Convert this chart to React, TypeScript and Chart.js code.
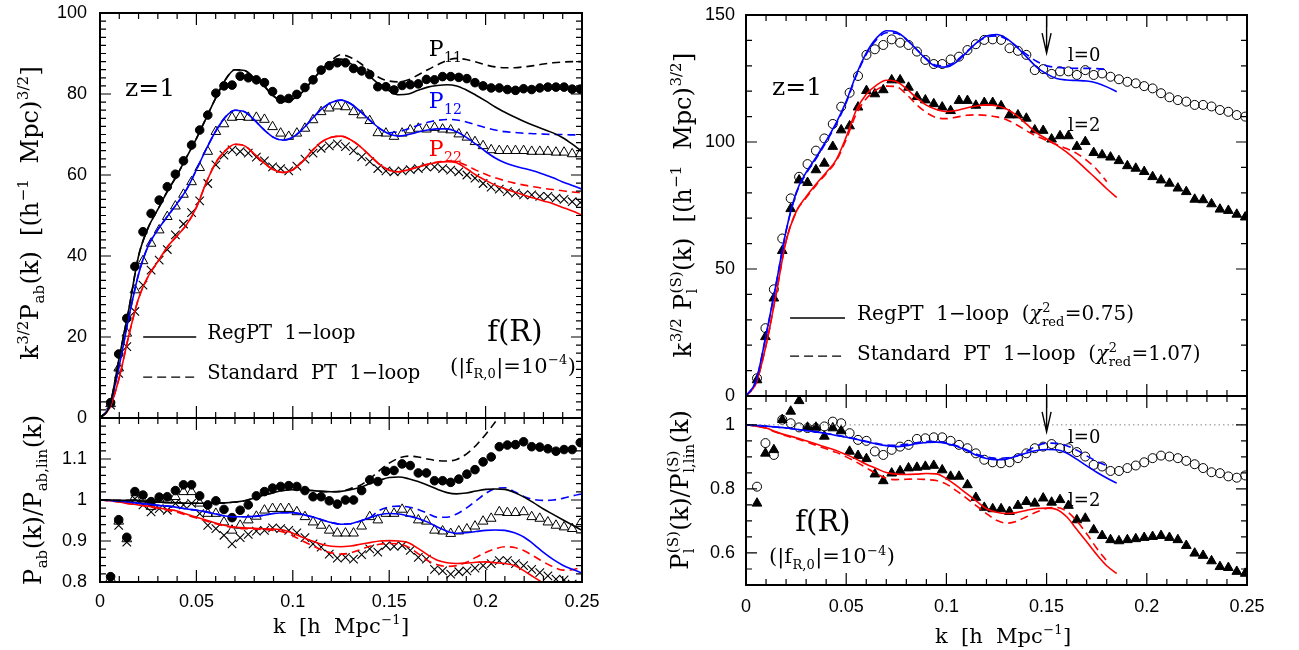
import { useEffect, useRef } from "react";
import Chart from "chart.js/auto";

const W = 1299;
const H = 650;
const SERIF = '"DejaVu Serif", "Liberation Serif", serif';
const SANS = '"Liberation Sans", Arial, sans-serif';
const BLUE = "#0000ff";
const RED = "#ff0000";
const BLACK = "#000000";

// k of the simulation points (both figures)
const K_SIM = [
  0.0055, 0.0097, 0.0139, 0.0181, 0.0223, 0.0265, 0.0307, 0.0349, 0.0391, 0.0433,
  0.0475, 0.0517, 0.0559, 0.0601, 0.0643, 0.0685, 0.0727, 0.0769, 0.0811, 0.0853,
  0.0895, 0.0937, 0.0979, 0.1021, 0.1063, 0.1105, 0.1147, 0.1189, 0.1231, 0.1273,
  0.1315, 0.1357, 0.1399, 0.1441, 0.1483, 0.1525, 0.1567, 0.1609, 0.1651, 0.1693,
  0.1735, 0.1777, 0.1819, 0.1861, 0.1903, 0.1945, 0.1987, 0.2029, 0.2071, 0.2113,
  0.2155, 0.2197, 0.2239, 0.2281, 0.2323, 0.2365, 0.2407, 0.2449, 0.2491,
];
// k of the theory curves
const K_CURVE = [
  0, 0.005, 0.01, 0.015, 0.02, 0.025, 0.03, 0.035, 0.04, 0.045,
  0.05, 0.055, 0.06, 0.065, 0.07, 0.075, 0.08, 0.085, 0.09, 0.095,
  0.1, 0.105, 0.11, 0.115, 0.12, 0.125, 0.13, 0.135, 0.14, 0.145,
  0.15, 0.155, 0.16, 0.165, 0.17, 0.175, 0.18, 0.185, 0.19, 0.195,
  0.2, 0.205, 0.21, 0.215, 0.22, 0.225, 0.23, 0.235, 0.24, 0.245, 0.25,
];

const X_TICKS = [0, 0.05, 0.1, 0.15, 0.2, 0.25];
const LT_Y_TICKS = [0, 20, 40, 60, 80, 100];
const LB_Y_TICKS = [0.8, 0.9, 1, 1.1];
const RT_Y_TICKS = [0, 50, 100, 150];
const RB_Y_TICKS = [0.6, 0.8, 1];

// ---- left top: k^{3/2} P_ab(k)
const LT_P11_SIM = [
  3.8, 15.8, 24.6, 37.4, 46, 50.5, 53.8, 57.1, 60.2, 63.5,
  67.4, 71.1, 74.8, 80.2, 82, 82.2, 84.4, 84, 83.5, 82.8,
  80.6, 78.7, 78.9, 79.9, 81.6, 83.5, 85.9, 87, 87.7, 87.7,
  86.3, 85.7, 84.8, 81.8, 81.8, 81, 82.1, 82.3, 82.5, 83.6,
  83.5, 84.3, 84.3, 84.1, 83.8, 82.8, 82, 81.5, 81.5, 81.1,
  80.9, 81.3, 81.1, 81.5, 81.7, 81.7, 81.7, 81.2, 81.2,
];
const LT_P12_SIM = [
  3.5, 12.3, 20.9, 31.6, 38.8, 43.1, 46.4, 49.7, 52.3, 55.2,
  58.3, 61.8, 65.8, 70.7, 72.6, 74.2, 74.4, 74.2, 74.2, 73.7,
  71.9, 70.3, 69.5, 70.3, 71.5, 73.6, 75.6, 76.5, 77, 76.8,
  75.6, 74.8, 73.4, 70.4, 70.3, 69.5, 70.3, 71.1, 71.5, 71.3,
  71.7, 71.3, 71.1, 70.1, 69.3, 68.2, 67.2, 66.2, 66, 66,
  66, 66, 65.8, 65.8, 65.8, 65.6, 65.6, 65.2, 65.2,
];
const LT_P22_SIM = [
  3.2, 11, 17.6, 26.3, 32.8, 36.5, 39, 41.6, 45.2, 47.9,
  50.7, 53.6, 57.9, 62.5, 64.9, 66.2, 65.8, 65.4, 64.4, 63.5,
  62, 61.6, 61, 62.2, 63.9, 65.4, 66.6, 67.2, 67.7, 67,
  66, 64.5, 63.3, 61.6, 61, 60.8, 61, 61.3, 61.6, 62,
  62, 61.6, 61.2, 60.8, 60, 59.2, 57.9, 57, 56.5, 55.9,
  55.5, 55.1, 55.1, 54.7, 54.7, 54.3, 54, 53.4, 53.2,
];
const LT_P11_REG = [
  0, 3, 15, 27, 40, 47, 51.5, 56, 60, 64.5, 69, 74, 79, 83.5, 86, 85.8, 84, 82, 79.5, 78.1,
  78.7, 80.5, 83.3, 86, 87.8, 88.6, 87.5, 86, 84.3, 82.3, 80.8, 79.8, 80, 80.9, 81.7, 82.1,
  82.3, 82, 81, 79.7, 78.3, 76.8, 75.5, 74.3, 73.2, 72.2, 71.3, 70.4, 69.2, 67.6, 65.8,
];
const LT_P11_SPT = [
  0, 3, 15, 27, 40, 47, 51.5, 56, 60, 64.5, 69, 74, 79, 83.5, 86, 85.8, 84, 82, 79.5, 78.1,
  78.7, 80.5, 83.3, 86, 88.3, 89.7, 89, 87.6, 85.7, 84, 83.2, 83, 83.5, 84.7, 86, 87.2,
  88.3, 88.8, 88.5, 87.9, 87.2, 86.7, 86.5, 86.5, 86.7, 87, 87.4, 87.7, 87.9, 88, 88,
];
const LT_P12_REG = [
  0, 3, 13, 25, 35.5, 42.5, 46.5, 49.8, 53, 56.5, 61.3, 66.3, 70.8, 74.3, 76, 75.6, 73.6,
  71.2, 69.3, 68.6, 69.3, 71.3, 73.9, 76.3, 77.9, 78.5, 77.6, 75.7, 73.5, 71.5, 70.1, 69.6,
  70, 70.6, 71.1, 71.4, 71.4, 70.7, 69.3, 67.6, 65.8, 64.2, 63, 62.2, 61.6, 61, 60.2, 59.3,
  58.3, 57.4, 56.5,
];
const LT_P12_SPT = [
  0, 3, 13, 25, 35.5, 42.5, 46.5, 49.8, 53, 56.5, 61.3, 66.3, 70.8, 74.3, 76, 75.6, 73.6,
  71.2, 69.3, 68.6, 69.3, 71.3, 73.9, 76.3, 77.9, 78.5, 77.6, 75.7, 73.5, 71.5, 70.4, 70.7,
  71.4, 72.3, 73, 73.5, 73.7, 73.6, 73.1, 72.4, 71.7, 71.1, 70.7, 70.5, 70.3, 70.2, 70.1,
  70, 70, 69.9, 69.9,
];
const LT_P22_REG = [
  0, 2.5, 10, 20.5, 29.5, 35, 38.6, 42.3, 45, 47.8, 52, 58, 63, 66, 67.6, 67.2, 65.2, 63,
  61.3, 60.6, 61.3, 63.3, 66, 68.2, 69.3, 69.6, 68.7, 67, 64.8, 62.6, 61.2, 60.8, 61.3, 62,
  62.6, 63.1, 63.3, 63, 61.6, 60, 58.7, 57.5, 56.6, 55.8, 55, 54.3, 53.6, 52.9, 52, 51.1, 50.1,
];
const LT_P22_SPT = [
  0, 2.5, 10, 20.5, 29.5, 35, 38.6, 42.3, 45, 47.8, 52, 58, 63, 66, 67.6, 67.2, 65.2, 63,
  61.3, 60.6, 61.3, 63.3, 66, 68.2, 69.3, 69.6, 68.7, 67, 64.8, 62.6, 61.2, 60.8, 61.3, 62,
  62.7, 63.2, 63.5, 63.3, 62.4, 61.2, 60.2, 59.3, 58.6, 58, 57.5, 57.1, 56.7, 56.4, 56.1, 55.8, 55.6,
];

// ---- left bottom: P_ab / P_ab,lin
const LB_P11_SIM = [
  0.813, 0.952, 0.909, 1.0205, 1.012, 0.996, 1.007, 1.008, 1.023, 1.037,
  1.037, 1.01, 0.988, 0.998, 0.977, 0.957, 0.975, 0.988, 1.01, 1.0205,
  1.029, 1.033, 1.035, 1.033, 1.023, 1.008, 1.008, 0.998, 0.99, 1.0,
  1.0, 1.023, 1.049, 1.045, 1.07, 1.072, 1.088, 1.084, 1.066, 1.066,
  1.047, 1.047, 1.043, 1.051, 1.063, 1.074, 1.093, 1.105, 1.13, 1.134,
  1.135, 1.142, 1.13, 1.129, 1.125, 1.119, 1.123, 1.123, 1.14,
];
const LB_P12_SIM = [
  0.808, 0.948, 0.905, 1.007, 1.0, 0.984, 1.002, 1.0, 1.008, 1.02,
  1.02, 0.992, 0.967, 0.967, 0.946, 0.926, 0.938, 0.951, 0.96, 0.975,
  0.979, 0.979, 0.979, 0.971, 0.959, 0.946, 0.938, 0.926, 0.919, 0.919,
  0.919, 0.936, 0.959, 0.951, 0.967, 0.967, 0.977, 0.967, 0.951, 0.948,
  0.926, 0.924, 0.918, 0.924, 0.929, 0.936, 0.948, 0.955, 0.971, 0.969,
  0.969, 0.971, 0.959, 0.955, 0.946, 0.938, 0.934, 0.93, 0.942,
];
const LB_P22_SIM = [
  0.806, 0.938, 0.897, 1.003, 0.988, 0.971, 0.979, 0.975, 0.992, 0.988,
  0.992, 0.967, 0.938, 0.93, 0.914, 0.893, 0.908, 0.916, 0.924, 0.926,
  0.932, 0.93, 0.926, 0.92, 0.908, 0.893, 0.885, 0.868, 0.858, 0.86,
  0.856, 0.867, 0.881, 0.873, 0.889, 0.887, 0.889, 0.877, 0.86, 0.856,
  0.831, 0.827, 0.819, 0.825, 0.827, 0.834, 0.84, 0.845, 0.852, 0.852,
  0.845, 0.84, 0.831, 0.823, 0.815, 0.807, 0.805, 0.795, 0.79,
];
const LB_P11_REG = [
  1, 1, 0.999, 0.999, 0.998, 0.997, 0.995, 0.994, 0.993, 0.992, 0.992, 0.992, 0.992, 0.993,
  0.995, 0.998, 1.005, 1.012, 1.018, 1.023, 1.025, 1.025, 1.023, 1.021, 1.02, 1.021, 1.025,
  1.031, 1.04, 1.048, 1.055, 1.056, 1.052, 1.045, 1.036, 1.026, 1.018, 1.015, 1.017, 1.022,
  1.026, 1.027, 1.026, 1.018, 1.007, 0.993, 0.978, 0.965, 0.952, 0.939, 0.926,
];
const LB_P11_SPT = [
  1, 1, 0.999, 0.999, 0.998, 0.997, 0.995, 0.994, 0.993, 0.992, 0.992, 0.992, 0.992, 0.993,
  0.995, 0.998, 1.005, 1.012, 1.018, 1.023, 1.025, 1.025, 1.023, 1.021, 1.02, 1.021, 1.028,
  1.036, 1.052, 1.072, 1.09, 1.102, 1.107, 1.105, 1.1, 1.096, 1.095, 1.099, 1.112, 1.133,
  1.16, 1.19, 1.222, 1.255, 1.29,
];
const LB_P12_REG = [
  1, 0.999, 0.997, 0.995, 0.992, 0.99, 0.987, 0.985, 0.982, 0.978, 0.975, 0.971, 0.966,
  0.961, 0.959, 0.959, 0.96, 0.963, 0.967, 0.969, 0.969, 0.965, 0.959, 0.952, 0.945, 0.941,
  0.942, 0.949, 0.957, 0.964, 0.967, 0.966, 0.961, 0.955, 0.946, 0.934, 0.924, 0.919, 0.92,
  0.923, 0.926, 0.927, 0.926, 0.92, 0.909, 0.892, 0.872, 0.855, 0.841, 0.831, 0.822,
];
const LB_P12_SPT = [
  1, 0.999, 0.997, 0.995, 0.992, 0.99, 0.987, 0.985, 0.982, 0.978, 0.975, 0.971, 0.966,
  0.961, 0.959, 0.959, 0.96, 0.963, 0.967, 0.969, 0.969, 0.965, 0.959, 0.952, 0.945, 0.941,
  0.942, 0.949, 0.957, 0.975, 0.983, 0.985, 0.983, 0.977, 0.967, 0.958, 0.958, 0.966, 0.98,
  0.998, 1.016, 1.028, 1.03, 1.02, 1.008, 1.001, 0.999, 1.0, 1.004, 1.01, 1.015,
];
const LB_P22_REG = [
  1, 0.998, 0.995, 0.991, 0.988, 0.985, 0.981, 0.977, 0.973, 0.965, 0.958, 0.951, 0.944,
  0.938, 0.934, 0.932, 0.931, 0.93, 0.929, 0.927, 0.919, 0.909, 0.9, 0.892, 0.887, 0.886,
  0.888, 0.892, 0.896, 0.9, 0.901, 0.9, 0.896, 0.882, 0.866, 0.853, 0.847, 0.845, 0.846,
  0.848, 0.849, 0.847, 0.845, 0.84, 0.827, 0.812, 0.797, 0.782, 0.768, 0.755, 0.742,
];
const LB_P22_SPT = [
  1, 0.998, 0.995, 0.991, 0.988, 0.984, 0.98, 0.975, 0.97, 0.963, 0.956, 0.949, 0.942,
  0.936, 0.932, 0.93, 0.929, 0.928, 0.926, 0.922, 0.913, 0.9, 0.889, 0.878, 0.871, 0.868,
  0.871, 0.879, 0.887, 0.892, 0.894, 0.893, 0.885, 0.869, 0.852, 0.842, 0.838, 0.84, 0.848,
  0.86, 0.872, 0.881, 0.886, 0.884, 0.876, 0.863, 0.849, 0.837, 0.829, 0.83, 0.836,
];

// ---- right top: k^{3/2} P_l^(S)(k)
const RT_L0_SIM = [
  7, 26.7, 42, 62, 77.8, 86.3, 91.3, 96.6, 101.4, 107.1,
  113.9, 119.4, 126, 134.3, 136.5, 138.2, 140.4, 139.1, 138.2, 135.6,
  132.3, 130.7, 130.7, 132.5, 133.6, 136.2, 138.5, 140.2, 140.4, 140.2,
  136.9, 135.9, 134.3, 128.3, 128.7, 126.8, 127.8, 127.8, 126.4, 128.3,
  126.4, 127, 125.7, 124.7, 123.7, 123.1, 122, 121.1, 119.2, 117.6,
  116.5, 115.9, 114.6, 114.6, 114, 112.6, 111.9, 110.6, 110,
];
const RT_L2_SIM = [
  6.3, 23.3, 38.5, 57.2, 73.7, 85, 84, 89, 91.6, 98.2,
  104.7, 106.3, 113.7, 120.2, 118.9, 120.5, 124.4, 124.4, 121.5, 117.8,
  116.5, 115, 113.7, 112.3, 116.3, 116.3, 114.4, 115.5, 115.5, 114.2,
  110.6, 110.6, 109.3, 104.7, 104.5, 101.1, 102.4, 102.4, 98.2, 100.1,
  95.8, 94.9, 94, 92.6, 90.6, 89.6, 88.3, 86.3, 85, 83.7,
  81.8, 80.4, 77.4, 77.2, 75.6, 73.5, 73, 71.5, 70.4,
];
const RT_L0_REG = [
  0, 6, 24, 44, 65, 80, 88, 94, 100.5, 107.5, 116, 126.5, 135, 140.8, 143.8, 143.3, 140.5,
  136.5, 132.5, 129.7, 129.5, 131.5, 135.2, 139, 141.7, 142.3, 140.8, 137.5, 133.5, 129.5,
  126.8, 125, 124.4, 124.2, 124, 123.2, 121.7, 119.8,
];
const RT_L0_SPT = [
  0, 6, 24, 44, 65, 79.5, 87.5, 93.5, 100, 107, 115.5, 126, 134.5, 140.2, 143, 142.8, 140.3,
  136.6, 132.8, 130.2, 130, 132, 135.5, 139, 141.3, 141.8, 140.5, 137.6, 134.5, 131.8, 130,
  129.4, 129.1, 129, 129, 128.9, 128.6,
];
const RT_L2_REG = [
  0, 5, 20, 40, 61, 72.5, 78.5, 83.5, 88, 93, 102, 112.5, 118.8, 122.3, 124.3, 123.8, 121,
  117.5, 114.5, 112.8, 112, 112.4, 113.4, 114.2, 114.6, 114.3, 113, 110.5, 107, 103.6, 101.2,
  98.8, 96, 92.7, 89, 85.4, 81.6, 78.2,
];
const RT_L2_SPT = [
  0, 5, 20, 40, 61, 72.5, 78, 83, 87.5, 92.5, 101, 111, 117, 120.5, 122, 121.8, 118.8, 114.8,
  111.6, 109.6, 109.2, 109.8, 110.5, 110.7, 110.5, 109.9, 108.8, 106.8, 104.4, 102.3, 100.6,
  99, 97.4, 95.5, 92.8, 89.2, 84.4,
];

// ---- right bottom: P_l^(S) / P_l,lin^(S)
const RB_L0_SIM = [
  0.807, 0.943, 0.906, 1.016, 1.005, 0.992, 0.99, 0.99, 0.995, 1.01,
  1.005, 0.974, 0.953, 0.95, 0.917, 0.906, 0.922, 0.932, 0.9375, 0.956,
  0.958, 0.961, 0.961, 0.95, 0.9375, 0.927, 0.911, 0.891, 0.883, 0.88,
  0.883, 0.896, 0.911, 0.927, 0.932, 0.94, 0.927, 0.927, 0.915, 0.901,
  0.875, 0.87, 0.856, 0.856, 0.865, 0.873, 0.883, 0.896, 0.904, 0.901,
  0.896, 0.8875, 0.877, 0.865, 0.852, 0.849, 0.839, 0.835, 0.842,
];
const RB_L2_SIM = [
  0.755, 0.911, 0.922, 1.016, 1.042, 1.075, 0.992, 0.992, 0.964, 0.99,
  0.981, 0.917, 0.904, 0.894, 0.846, 0.825, 0.849, 0.856, 0.865, 0.867,
  0.87, 0.873, 0.859, 0.839, 0.839, 0.8125, 0.773, 0.742, 0.7375, 0.7375,
  0.729, 0.748, 0.76, 0.755, 0.771, 0.758, 0.766, 0.748, 0.703, 0.708,
  0.672, 0.654, 0.641, 0.6375, 0.641, 0.644, 0.648, 0.651, 0.654, 0.648,
  0.641, 0.623, 0.599, 0.592, 0.575, 0.557, 0.554, 0.542, 0.536,
];
const RB_L0_REG = [
  1, 0.998, 0.996, 0.993, 0.99, 0.986, 0.982, 0.978, 0.973, 0.967, 0.961, 0.955, 0.947, 0.94,
  0.935, 0.932, 0.935, 0.941, 0.945, 0.946, 0.942, 0.933, 0.92, 0.905, 0.895, 0.891, 0.893,
  0.902, 0.912, 0.92, 0.923, 0.922, 0.912, 0.893, 0.872, 0.852, 0.834, 0.818,
];
const RB_L0_SPT = [
  1, 0.998, 0.996, 0.993, 0.99, 0.986, 0.982, 0.978, 0.973, 0.968, 0.962, 0.956, 0.949, 0.942,
  0.937, 0.936, 0.939, 0.944, 0.948, 0.948, 0.944, 0.935, 0.922, 0.908, 0.9, 0.895, 0.897,
  0.903, 0.917, 0.934, 0.943, 0.942, 0.935, 0.921, 0.903, 0.886, 0.873,
];
const RB_L2_REG = [
  1, 0.996, 0.99, 0.978, 0.968, 0.96, 0.95, 0.94, 0.93, 0.92, 0.907, 0.893, 0.877, 0.864,
  0.851, 0.846, 0.845, 0.846, 0.848, 0.847, 0.832, 0.81, 0.786, 0.762, 0.738, 0.727, 0.723,
  0.726, 0.733, 0.739, 0.74, 0.736, 0.713, 0.674, 0.635, 0.595, 0.56, 0.536,
];
const RB_L2_SPT = [
  1, 0.996, 0.989, 0.977, 0.966, 0.957, 0.947, 0.936, 0.925, 0.914, 0.9, 0.884, 0.866, 0.848,
  0.833, 0.829, 0.83, 0.831, 0.829, 0.826, 0.815, 0.794, 0.771, 0.747, 0.723, 0.702, 0.693,
  0.699, 0.713, 0.728, 0.739, 0.742, 0.73, 0.7, 0.66, 0.615, 0.575,
];
const REF_K = [0, 0.25];
const REF_ONE = [1, 1];

type Seg = { t?: string; sub?: string; sup?: string; it?: boolean };
type Note = {
  x: number; y: number; segs: Seg[]; size: number;
  color?: string; align?: "left" | "center"; px?: boolean; rot?: number;
};
type Sample = { x0: number; x1: number; y: number; dash?: boolean };
type Arrow = { x: number; y0: number; y1: number };
type PanelCfg = {
  id: string;
  area: { left: number; top: number; right: number; bottom: number };
  yMin: number; yMax: number; yTicks: number[]; yMajor: number; yMinor: number; yPad: number;
  showX: boolean; xPad: number;
  datasets: any[]; notes: Note[]; samples: Sample[]; arrows: Arrow[];
};

const pts = (xs: number[], ys: number[]) => ys.map((y, i) => ({ x: xs[i], y }));

const curve = (ys: number[], color: string, dashed = false) => ({
  data: pts(K_CURVE, ys),
  showLine: true,
  borderColor: color,
  borderWidth: 1.6,
  borderDash: dashed ? [8, 5] : [],
  pointRadius: 0,
  cubicInterpolationMode: "monotone",
  fill: false,
});

const marks = (ys: number[], style: string, radius: number, filled: boolean, bw = 1) => ({
  data: pts(K_SIM, ys),
  showLine: false,
  pointStyle: style,
  pointRadius: radius,
  pointBackgroundColor: filled ? BLACK : "rgba(0,0,0,0)",
  pointBorderColor: BLACK,
  pointBorderWidth: bw,
});

const FR_NOTE: Seg[] = [{ t: "(|f", sub: "R,0" }, { t: "|=10", sup: "−4" }, { t: ")" }];
const KLABEL: Seg[] = [{ t: "k  [h  Mpc", sup: "−1" }, { t: "]" }];

const PANELS: PanelCfg[] = [
  {
    id: "lt",
    area: { left: 100, top: 13, right: 582, bottom: 418 },
    yMin: 0, yMax: 100, yTicks: LT_Y_TICKS, yMajor: 20, yMinor: 2, yPad: 13,
    showX: false, xPad: 0,
    datasets: [
      curve(LT_P11_REG, BLACK), curve(LT_P11_SPT, BLACK, true),
      curve(LT_P12_REG, BLUE), curve(LT_P12_SPT, BLUE, true),
      curve(LT_P22_REG, RED), curve(LT_P22_SPT, RED, true),
      marks(LT_P11_SIM, "circle", 4.3, true),
      marks(LT_P12_SIM, "triangle", 5.6, false),
      marks(LT_P22_SIM, "crossRot", 6, false, 1.1),
    ],
    notes: [
      { x: 0.013, y: 81.7, segs: [{ t: "z=1" }], size: 25 },
      { x: 0.1705, y: 91.4, segs: [{ t: "P", sub: "11" }], size: 22 },
      { x: 0.1705, y: 78.5, segs: [{ t: "P", sub: "12" }], size: 22, color: BLUE },
      { x: 0.1705, y: 66.7, segs: [{ t: "P", sub: "22" }], size: 22, color: RED },
      { x: 0.0556, y: 21.2, segs: [{ t: "RegPT  1−loop" }], size: 19.5 },
      { x: 0.0556, y: 11.4, segs: [{ t: "Standard  PT  1−loop" }], size: 19.5 },
      { x: 0.2152, y: 21.5, segs: [{ t: "f(R)" }], size: 29, align: "center" },
      { x: 0.2142, y: 13.1, segs: FR_NOTE, size: 21, align: "center" },
      {
        x: 29, y: 213, px: true, rot: -Math.PI / 2, align: "center", size: 24,
        segs: [{ t: "k", sup: "3/2" }, { t: "P", sub: "ab" }, { t: "(k)  [(h", sup: "−1" }, { t: "  Mpc)", sup: "3/2" }, { t: "]" }],
      },
    ],
    samples: [
      { x0: 0.0224, x1: 0.0499, y: 20 },
      { x0: 0.0224, x1: 0.0499, y: 10.1, dash: true },
    ],
    arrows: [],
  },
  {
    id: "lb",
    area: { left: 100, top: 418, right: 582, bottom: 582 },
    yMin: 0.8, yMax: 1.2, yTicks: LB_Y_TICKS, yMajor: 0.1, yMinor: 0.02, yPad: 13,
    showX: true, xPad: 9,
    datasets: [
      curve(LB_P11_REG, BLACK), curve(LB_P11_SPT, BLACK, true),
      curve(LB_P12_REG, BLUE), curve(LB_P12_SPT, BLUE, true),
      curve(LB_P22_REG, RED), curve(LB_P22_SPT, RED, true),
      marks(LB_P11_SIM, "circle", 4.3, true),
      marks(LB_P12_SIM, "triangle", 5.6, false),
      marks(LB_P22_SIM, "crossRot", 6, false, 1.1),
    ],
    notes: [
      {
        x: 32, y: 500, px: true, rot: -Math.PI / 2, align: "center", size: 24,
        segs: [{ t: "P", sub: "ab" }, { t: "(k)/P", sub: "ab,lin" }, { t: "(k)" }],
      },
      { x: 341, y: 625, px: true, align: "center", size: 21, segs: KLABEL },
    ],
    samples: [],
    arrows: [],
  },
  {
    id: "rt",
    area: { left: 746, top: 15, right: 1247, bottom: 396 },
    yMin: 0, yMax: 150, yTicks: RT_Y_TICKS, yMajor: 50, yMinor: 10, yPad: 11,
    showX: false, xPad: 0,
    datasets: [
      curve(RT_L0_REG, BLUE), curve(RT_L0_SPT, BLUE, true),
      curve(RT_L2_REG, RED), curve(RT_L2_SPT, RED, true),
      marks(RT_L0_SIM, "circle", 4.5, false),
      marks(RT_L2_SIM, "triangle", 5.6, true),
    ],
    notes: [
      { x: 0.013, y: 122, segs: [{ t: "z=1" }], size: 25 },
      { x: 0.1607, y: 134.3, segs: [{ t: "l=0" }], size: 18 },
      { x: 0.1607, y: 106.7, segs: [{ t: "l=2" }], size: 18 },
      {
        x: 0.0554, y: 32.7, size: 20,
        segs: [{ t: "RegPT  1−loop  (" }, { t: "χ", it: true, sub: "red", sup: "2" }, { t: "=0.75)" }],
      },
      {
        x: 0.0554, y: 16.9, size: 20,
        segs: [{ t: "Standard  PT  1−loop  (" }, { t: "χ", it: true, sub: "red", sup: "2" }, { t: "=1.07)" }],
      },
      {
        x: 682, y: 205, px: true, rot: -Math.PI / 2, align: "center", size: 24,
        segs: [{ t: "k", sup: "3/2" }, { t: " P", sub: "l", sup: "(S)" }, { t: "(k)  [(h", sup: "−1" }, { t: "  Mpc)", sup: "3/2" }, { t: "]" }],
      },
    ],
    samples: [
      { x0: 0.022, x1: 0.0494, y: 30.7 },
      { x0: 0.022, x1: 0.0494, y: 15.7, dash: true },
    ],
    arrows: [{ x: 0.15, y0: 150, y1: 135 }],
  },
  {
    id: "rb",
    area: { left: 746, top: 396, right: 1247, bottom: 585 },
    yMin: 0.5, yMax: 1.09, yTicks: RB_Y_TICKS, yMajor: 0.2, yMinor: 0.05, yPad: 11,
    showX: true, xPad: 11,
    datasets: [
      {
        data: pts(REF_K, REF_ONE), showLine: true, borderColor: "#888888", borderWidth: 1,
        borderDash: [1.5, 3], pointRadius: 0,
      },
      curve(RB_L0_REG, BLUE), curve(RB_L0_SPT, BLUE, true),
      curve(RB_L2_REG, RED), curve(RB_L2_SPT, RED, true),
      marks(RB_L0_SIM, "circle", 4.5, false),
      marks(RB_L2_SIM, "triangle", 5.6, true),
    ],
    notes: [
      { x: 0.0384, y: 0.7, segs: [{ t: "f(R)" }], size: 29, align: "center" },
      { x: 0.0429, y: 0.591, segs: FR_NOTE, size: 21, align: "center" },
      { x: 0.1607, y: 0.9625, segs: [{ t: "l=0" }], size: 18 },
      { x: 0.1607, y: 0.766, segs: [{ t: "l=2" }], size: 18 },
      {
        x: 679, y: 490, px: true, rot: -Math.PI / 2, align: "center", size: 24,
        segs: [{ t: "P", sub: "l", sup: "(S)" }, { t: "(k)/P", sub: "l,lin", sup: "(S)" }, { t: "(k)" }],
      },
      { x: 1003, y: 635, px: true, align: "center", size: 21, segs: KLABEL },
    ],
    samples: [],
    arrows: [{ x: 0.15, y0: 1.09, y1: 0.978 }],
  },
];

function drawRich(ctx: CanvasRenderingContext2D, n: Note, x: number, y: number) {
  const big = n.size;
  const small = Math.round(n.size * 0.64);
  const f = (s: number, it?: boolean) => `${it ? "italic " : ""}${s}px ${SERIF}`;
  const parts = n.segs.map((s) => {
    ctx.font = f(big, s.it);
    const wt = s.t ? ctx.measureText(s.t).width : 0;
    ctx.font = f(small);
    const wb = s.sub ? ctx.measureText(s.sub).width : 0;
    const wp = s.sup ? ctx.measureText(s.sup).width : 0;
    return { s, wt, ws: Math.max(wb, wp) + (s.sub || s.sup ? 1 : 0) };
  });
  const total = parts.reduce((acc, p) => acc + p.wt + p.ws, 0);
  ctx.save();
  ctx.translate(x, y);
  if (n.rot) ctx.rotate(n.rot);
  ctx.fillStyle = n.color ?? BLACK;
  ctx.textBaseline = "alphabetic";
  ctx.textAlign = "left";
  let cx = n.align === "center" ? -total / 2 : 0;
  const base = big * 0.36;
  for (const p of parts) {
    if (p.s.t) {
      ctx.font = f(big, p.s.it);
      ctx.fillText(p.s.t, cx, base);
    }
    cx += p.wt;
    ctx.font = f(small);
    if (p.s.sub) ctx.fillText(p.s.sub, cx + 0.5, base + big * 0.27);
    if (p.s.sup) ctx.fillText(p.s.sup, cx + 0.5, base - big * 0.42);
    cx += p.ws;
  }
  ctx.restore();
}

function makeFrame(cfg: PanelCfg) {
  return {
    id: "frame_" + cfg.id,
    afterDraw(chart: any) {
      const { ctx, chartArea: a } = chart;
      const xs = chart.scales.x;
      const ys = chart.scales.y;
      ctx.save();
      ctx.strokeStyle = BLACK;
      ctx.lineWidth = 1.2;
      ctx.setLineDash([]);
      ctx.beginPath();
      // inward ticks on all four sides
      for (let i = 0; i <= 25; i++) {
        const px = xs.getPixelForValue(i * 0.01);
        const len = i % 5 === 0 ? 12 : 6;
        ctx.moveTo(px, a.bottom); ctx.lineTo(px, a.bottom - len);
        ctx.moveTo(px, a.top); ctx.lineTo(px, a.top + len);
      }
      const start = Math.ceil(cfg.yMin / cfg.yMinor - 1e-6);
      const stop = Math.floor(cfg.yMax / cfg.yMinor + 1e-6);
      for (let i = start; i <= stop; i++) {
        const v = i * cfg.yMinor;
        const r = v / cfg.yMajor;
        const len = Math.abs(r - Math.round(r)) < 1e-6 ? 11 : 6;
        const py = ys.getPixelForValue(v);
        ctx.moveTo(a.left, py); ctx.lineTo(a.left + len, py);
        ctx.moveTo(a.right, py); ctx.lineTo(a.right - len, py);
      }
      ctx.stroke();
      ctx.lineWidth = 2;
      ctx.strokeRect(a.left, a.top, a.right - a.left, a.bottom - a.top);

      // legend samples
      ctx.lineWidth = 1.4;
      for (const s of cfg.samples) {
        ctx.setLineDash(s.dash ? [9, 5] : []);
        ctx.beginPath();
        const py = ys.getPixelForValue(s.y);
        ctx.moveTo(xs.getPixelForValue(s.x0), py);
        ctx.lineTo(xs.getPixelForValue(s.x1), py);
        ctx.stroke();
      }
      ctx.setLineDash([]);
      // arrows
      for (const ar of cfg.arrows) {
        const px = xs.getPixelForValue(ar.x);
        const p0 = ys.getPixelForValue(ar.y0);
        const p1 = ys.getPixelForValue(ar.y1);
        ctx.beginPath();
        ctx.moveTo(px, p0); ctx.lineTo(px, p1);
        ctx.moveTo(px - 4.5, p1 - 20); ctx.lineTo(px, p1); ctx.lineTo(px + 4.5, p1 - 20);
        ctx.stroke();
      }
      // texts
      for (const n of cfg.notes) {
        const x = n.px ? n.x : xs.getPixelForValue(n.x);
        const y = n.px ? n.y : ys.getPixelForValue(n.y);
        drawRich(ctx, n, x, y);
      }
      ctx.restore();
    },
  };
}

function buildConfig(cfg: PanelCfg): any {
  const tickFont = { family: SANS, size: 18 };
  const zeroPad = (s: any) => {
    s.paddingTop = 0; s.paddingBottom = 0; s.paddingLeft = 0; s.paddingRight = 0;
  };
  const { left, top, right, bottom } = cfg.area;
  const xH = cfg.showX ? H - bottom : 0;
  return {
    type: "scatter",
    data: { datasets: cfg.datasets },
    plugins: [makeFrame(cfg)],
    options: {
      responsive: false,
      animation: false,
      events: [],
      layout: { padding: { left: 0, top, right: W - right, bottom: cfg.showX ? 0 : H - bottom } },
      plugins: { legend: { display: false }, tooltip: { enabled: false } },
      scales: {
        x: {
          type: "linear", min: 0, max: 0.25,
          grid: { display: false, drawTicks: false },
          border: { display: false },
          ticks: {
            display: cfg.showX, padding: cfg.xPad, font: tickFont, color: BLACK,
            maxRotation: 0, autoSkip: false, callback: (v: any) => String(v),
          },
          afterBuildTicks: (s: any) => { s.ticks = X_TICKS.map((v) => ({ value: v })); },
          afterFit: (s: any) => { s.height = xH; zeroPad(s); },
        },
        y: {
          type: "linear", min: cfg.yMin, max: cfg.yMax,
          grid: { display: false, drawTicks: false },
          border: { display: false },
          ticks: {
            padding: cfg.yPad, font: tickFont, color: BLACK, autoSkip: false,
            callback: (v: any) => String(v),
          },
          afterBuildTicks: (s: any) => { s.ticks = cfg.yTicks.map((v) => ({ value: v })); },
          afterFit: (s: any) => { s.width = left; zeroPad(s); },
        },
      },
    },
  };
}

function Panel({ cfg }: { cfg: PanelCfg }) {
  const canvasRef = useRef<HTMLCanvasElement>(null);
  useEffect(() => {
    if (!canvasRef.current) return;
    const chart = new Chart(canvasRef.current, buildConfig(cfg));
    return () => { chart.destroy(); };
  }, [cfg]);
  return (
    <canvas
      ref={canvasRef}
      width={W}
      height={H}
      style={{ position: "absolute", left: 0, top: 0, width: W, height: H }}
    />
  );
}

export default function App() {
  return (
    <div style={{ position: "fixed", left: 0, top: 0, width: W, height: H, background: "#fff" }}>
      {PANELS.map((p) => <Panel key={p.id} cfg={p} />)}
    </div>
  );
}
